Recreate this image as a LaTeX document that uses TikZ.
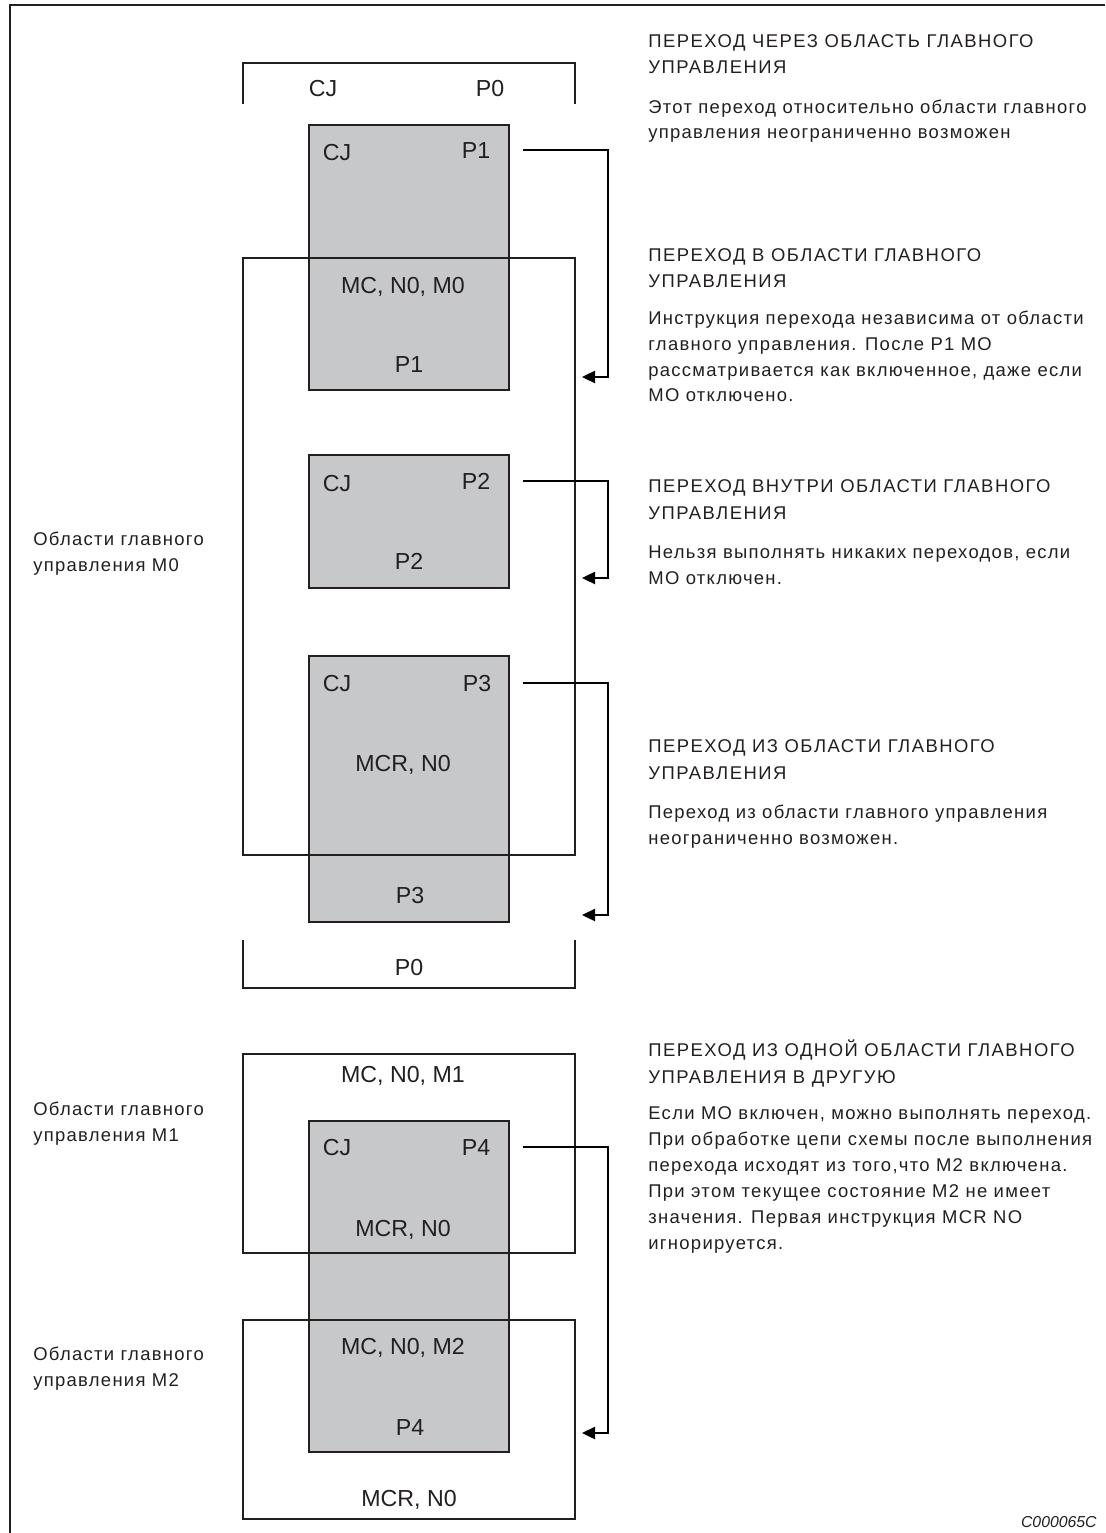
\documentclass[tikz,border=0pt]{standalone}
\usepackage{fontspec}
\setmainfont{Liberation Sans}
\newfontfamily\notefont[LetterSpace=7]{Liberation Sans}
\newfontfamily\headfont[LetterSpace=8]{Liberation Sans}
\usetikzlibrary{arrows.meta,fit}
\definecolor{boxgray}{RGB}{199,200,202}
\definecolor{inkline}{RGB}{35,31,32}
\tikzset{
  gbox/.style={draw=inkline, fill=boxgray, line width=0.8pt, inner sep=0pt},
  area/.style={draw=inkline, line width=0.6pt, inner sep=0pt},
  lbl/.style={font=\fontsize{13.2}{15}\selectfont, text=inkline, inner sep=0pt, text height=9.4pt, text depth=0pt},
  head/.style={font=\headfont\fontsize{10.5}{15.3}\selectfont, align=left, anchor=base west, inner sep=0pt, text=inkline},
  body/.style={font=\notefont\fontsize{10.5}{14.7}\selectfont, align=left, anchor=base west, inner sep=0pt, text=inkline},
  jump/.style={draw=black, line width=1.1pt, -{Triangle[length=7.5pt,width=7pt]}},
}
\begin{document}
\begin{tikzpicture}[x=0.02cm,y=-0.02cm]
    \useasboundingbox (0,0) rectangle (1105,1533);
    \draw[area] (10,1533) |- (1105,5);
    % grey jump blocks
    \node[gbox, fit={(309,125) (509,390)}] (g1) {};
    \node[gbox, fit={(309,455) (509,588)}] (g2) {};
    \node[gbox, fit={(309,656) (509,922)}] (g3) {};
    \node[gbox, fit={(309,1121) (509,1452)}] (g4) {};
    % master control areas
    \node[area, fit={(243,258) (575,855)}] (m0) {};
    \node[area, fit={(243,1054) (575,1253)}] (m1) {};
    \node[area, fit={(243,1320) (575,1519)}] (m2) {};
    \draw[area] (243,104) |- (575,63) -- (575,104);
    \draw[area] (243,940) |- (575,988) -- (575,940);
    % program labels
    \node[lbl] (cj0) at (323,88) {CJ};
    \node[lbl] (p0a) at (490,88) {P0};
    \node[lbl] (cj1) at (337,152) {CJ};
    \node[lbl] (p1a) at (476,150) {P1};
    \node[lbl] (mc0) at (403,285) {MC, N0, M0};
    \node[lbl] (p1b) at (409,364) {P1};
    \node[lbl] (cj2) at (337,483) {CJ};
    \node[lbl] (p2a) at (476,481) {P2};
    \node[lbl] (p2b) at (409,561) {P2};
    \node[lbl] (cj3) at (337,683) {CJ};
    \node[lbl] (p3a) at (477,683) {P3};
    \node[lbl] (mcr0) at (403,763) {MCR, N0};
    \node[lbl] (p3b) at (410,895) {P3};
    \node[lbl] (p0b) at (409,967) {P0};
    \node[lbl] (mc1) at (403,1074) {MC, N0, M1};
    \node[lbl] (cj4) at (337,1147) {CJ};
    \node[lbl] (p4a) at (476,1147) {P4};
    \node[lbl] (mcr1) at (403,1228) {MCR, N0};
    \node[lbl] (mc2) at (403,1346) {MC, N0, M2};
    \node[lbl] (p4b) at (410,1427) {P4};
    \node[lbl] (mcr2) at (409,1498) {MCR, N0};
    % jumps
    \coordinate (t1) at (582,377);
    \coordinate (t2) at (582,578);
    \coordinate (t3) at (582,915);
    \coordinate (t4) at (582,1433);
    \draw[jump] ([xshift=0.26cm]g1.east |- p1a.center) -| ([xshift=0.52cm]t1) -- (t1);
    \draw[jump] ([xshift=0.26cm]g2.east |- p2a.center) -| ([xshift=0.52cm]t2) -- (t2);
    \draw[jump] ([xshift=0.26cm]g3.east |- p3a.center) -| ([xshift=0.52cm]t3) -- (t3);
    \draw[jump] ([xshift=0.26cm]g4.east |- p4a.center) -| ([xshift=0.52cm]t4) -- (t4);
    % area names (base = last line)
    \node[body] (a0) at (33,571) {Области главного\\управления M0};
    \node[body] (a1) at (33,1141) {Области главного\\управления M1};
    \node[body] (a2) at (33,1386) {Области главного\\управления M2};
    % notes
    \node[head] (h1) at (648,74) {ПЕРЕХОД ЧЕРЕЗ ОБЛАСТЬ ГЛАВНОГО\\УПРАВЛЕНИЯ};
    \node[body] (b1) at (648,139) {Этот переход относительно области главного\\управления неограниченно возможен};
    \node[head] (h2) at (648,288) {ПЕРЕХОД В ОБЛАСТИ ГЛАВНОГО\\УПРАВЛЕНИЯ};
    \node[body] (b2) at (648,402) {Инструкция перехода независима от области\\главного управления. После P1 MO\\рассматривается как включенное, даже если\\MO отключено.};
    \node[head] (h3) at (648,519) {ПЕРЕХОД ВНУТРИ ОБЛАСТИ ГЛАВНОГО\\УПРАВЛЕНИЯ};
    \node[body] (b3) at (648,584) {Нельзя выполнять никаких переходов, если\\MO отключен.};
    \node[head] (h4) at (648,779) {ПЕРЕХОД ИЗ ОБЛАСТИ ГЛАВНОГО\\УПРАВЛЕНИЯ};
    \node[body] (b4) at (648,844) {Переход из области главного управления\\неограниченно возможен.};
    \node[head] (h5) at (648,1083) {ПЕРЕХОД ИЗ ОДНОЙ ОБЛАСТИ ГЛАВНОГО\\УПРАВЛЕНИЯ В ДРУГУЮ};
    \node[body] (b5) at (648,1249) {Если MO включен, можно выполнять переход.\\При обработке цепи схемы после выполнения\\перехода исходят из того,что M2 включена.\\При этом текущее состояние M2 не имеет\\значения. Первая инструкция MCR NO\\игнорируется.};
    \node[anchor=base east, inner sep=0pt, text=inkline, font=\itshape\fontsize{9}{11}\selectfont] (code) at (1097,1527) {C000065C};
\end{tikzpicture}
\end{document}
